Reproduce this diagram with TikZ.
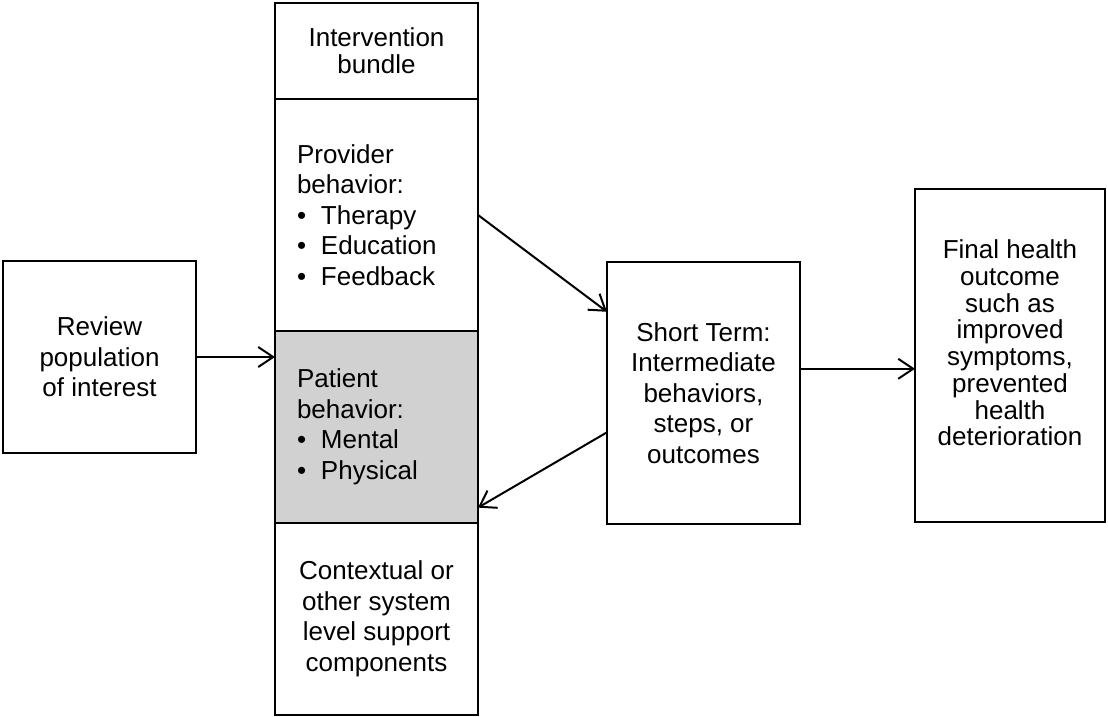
\documentclass[tikz,border=0pt]{standalone}
\usepackage{fontspec}
\setmainfont{Liberation Sans}
\usetikzlibrary{arrows.meta, positioning, calc}

\newcommand{\bitem}[1]{\makebox[24pt][l]{\textbullet}#1}

\tikzset{
  box/.style={draw, line width=2.5pt, align=center, inner sep=0pt, outer sep=0pt,
    font=\fontsize{26}{30.5}\selectfont},
  part/.style={box, minimum width=203pt, text width=159pt, align=left},
  link/.style={line width=2pt, -{Straight Barb[length=15pt, width=20pt]}},
}

\begin{document}
\begin{tikzpicture}[x=1pt, y=-1pt]
  \useasboundingbox (0,0) rectangle (1108,717);

  % ===== left input =====
  \node[box, minimum width=193pt, minimum height=192pt] (review) at (99.5,357)
    {Review\\population\\of interest};

  % ===== intervention column =====
  \node[box, minimum width=203pt, minimum height=96pt,
    font=\fontsize{26}{27}\selectfont] (bundle) at (376.5,51) {Intervention\\bundle};
  \node[part, minimum height=232pt, below=0pt of bundle] (prov)
    {Provider\\behavior:\\\bitem{Therapy}\\\bitem{Education}\\\bitem{Feedback}};
  \node[part, minimum height=192pt, fill=black!18, below=0pt of prov] (pat)
    {Patient\\behavior:\\\bitem{Mental}\\\bitem{Physical}};
  \node[box, minimum width=203pt, minimum height=192pt, below=0pt of pat] (ctx)
    {Contextual or\\other system\\level support\\components};

  % ===== outcomes =====
  \node[box, minimum width=193pt, minimum height=262pt] (short) at (703.5,393)
    {Short Term:\\Intermediate\\behaviors,\\steps, or\\outcomes};
  \node[box, minimum width=190pt, minimum height=333pt] (final) at (1010,355.5) {};
  \node[align=center, inner sep=0pt, font=\fontsize{26}{26.7}\selectfont] (finaltxt)
    at ([yshift=12.5pt]final.center)
    {Final health\\outcome\\such as\\improved\\symptoms,\\prevented\\health\\deterioration};
  \coordinate (finalin) at ($(final.north west)!0.54!(final.south west)$);

  % ===== arrows =====
  \draw[link] (review.east) -- (review.east -| pat.west);
  \draw[link] (prov.east) -- ($(short.north west)!0.19!(short.south west)$);
  \draw[link] ($(short.north west)!0.65!(short.south west)$) -- ($(pat.north east)!0.92!(pat.south east)$);
  \draw[link] (short.east |- finalin) -- (finalin);
\end{tikzpicture}
\end{document}
